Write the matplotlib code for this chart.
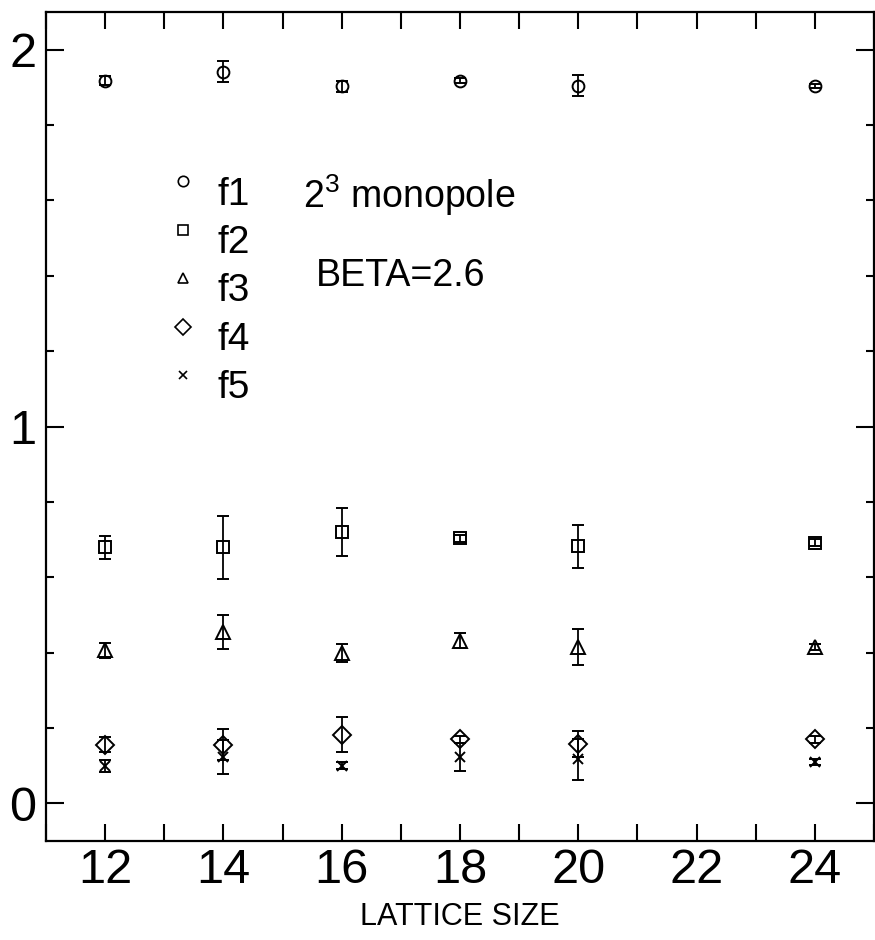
import numpy as np
import matplotlib
matplotlib.use('Agg')
import matplotlib.pyplot as plt
from matplotlib.lines import Line2D
from matplotlib.legend_handler import HandlerLine2D
from matplotlib.ticker import MultipleLocator, FuncFormatter

plt.rcParams['font.family'] = ['Liberation Sans', 'DejaVu Sans']
plt.rcParams['mathtext.fontset'] = 'custom'
plt.rcParams['mathtext.rm'] = 'Liberation Sans'
plt.rcParams['mathtext.default'] = 'regular'

# lattice sizes and the five quantities with their errors
sizes = [12, 14, 16, 18, 20, 24]
f1 = [1.918, 1.942, 1.903, 1.918, 1.905, 1.903]
f1_err = [0.012, 0.029, 0.014, 0.006, 0.028, 0.005]
f2 = [0.679, 0.679, 0.720, 0.703, 0.682, 0.692]
f2_err = [0.030, 0.084, 0.064, 0.010, 0.057, 0.010]
f3 = [0.406, 0.454, 0.398, 0.432, 0.415, 0.415]
f3_err = [0.019, 0.045, 0.024, 0.019, 0.047, 0.008]
f4 = [0.156, 0.156, 0.182, 0.170, 0.158, 0.170]
f4_err = [0.019, 0.042, 0.046, 0.010, 0.034, 0.010]
f5 = [0.099, 0.122, 0.100, 0.123, 0.117, 0.110]
f5_err = [0.015, 0.045, 0.010, 0.037, 0.054, 0.008]

labels = ['f1', 'f2', 'f3', 'f4', 'f5']
markers = ['o', 's', '^', 'D', 'x']
marker_sizes = [8.5, 9, 9.5, 9.5, 7]
legend_sizes = [7.5, 7.5, 7.5, 8, 5.5]

series = [(f1, f1_err), (f2, f2_err), (f3, f3_err), (f4, f4_err), (f5, f5_err)]


class RaisedHandler(HandlerLine2D):
    # legend markers sit above the middle of the label text
    def create_artists(self, legend, orig_handle, xdescent, ydescent,
                       width, height, fontsize, trans):
        artists = super().create_artists(legend, orig_handle, xdescent, ydescent,
                                         width, height, fontsize, trans)
        for a in artists:
            a.set_ydata(np.asarray(a.get_ydata()) + 7)
        return artists


fig = plt.figure(figsize=(8.75, 9.4), dpi=100)
ax = fig.add_axes([0.0526, 0.1053, 0.9463, 0.8819])

handles = []
for (vals, errs), m, ms, lms, lab in zip(series, markers, marker_sizes, legend_sizes, labels):
    ax.errorbar(sizes, vals, yerr=errs, fmt=m, ms=ms, mfc='none', mec='k',
                mew=1.4, ecolor='k', elinewidth=1.3, capsize=4.6, capthick=1.3)
    handles.append(Line2D([], [], marker=m, ls='none', ms=lms, mfc='none',
                          mec='k', mew=1.2, label=lab))

ax.legend(handles=handles, loc='upper left', bbox_to_anchor=(0.154, 0.8016),
          frameon=False, fontsize=28, borderpad=0, borderaxespad=0,
          handlelength=0.5, handletextpad=0.62, labelspacing=0.32,
          handler_map={Line2D: RaisedHandler()})

ax.text(15.346, 1.581, '$2^3$ monopole', fontsize=27, va='baseline', ha='left')
ax.text(15.566, 1.374, 'BETA=2.6', fontsize=27, va='baseline', ha='left')

ax.set_xlim(11, 25)
ax.set_ylim(-0.1, 2.1)
ax.xaxis.set_major_locator(MultipleLocator(1))
ax.xaxis.set_major_formatter(FuncFormatter(lambda v, p: '%d' % v if int(round(v)) % 2 == 0 else ''))
ax.yaxis.set_major_locator(MultipleLocator(1))
ax.yaxis.set_minor_locator(MultipleLocator(0.2))

ax.tick_params(which='both', direction='in', top=True, right=True, width=1.5, colors='k')
ax.tick_params(axis='x', which='major', length=12.5, labelsize=35, pad=5)
ax.tick_params(axis='y', which='major', length=13, labelsize=35, pad=7)
ax.tick_params(axis='y', which='minor', length=6)

for s in ax.spines.values():
    s.set_linewidth(1.6)

ax.set_xlabel('LATTICE SIZE', fontsize=22, labelpad=6.5)

fig.savefig('out.png', dpi=100)
